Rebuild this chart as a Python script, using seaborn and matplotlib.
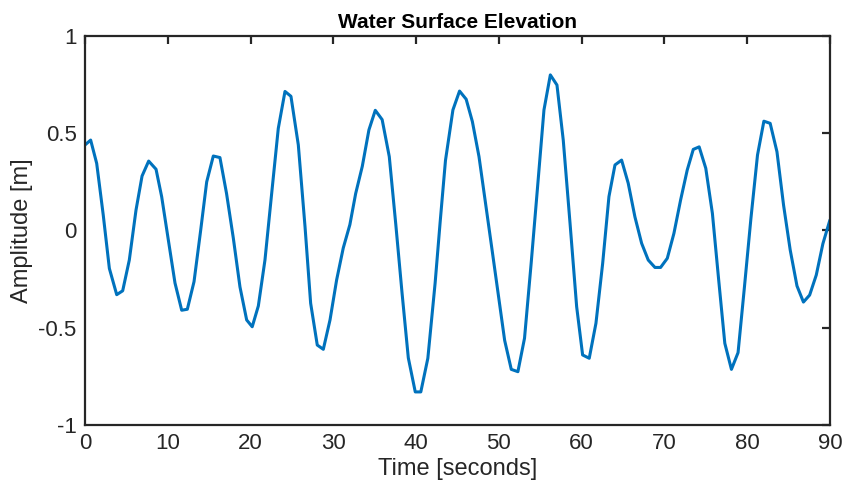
import matplotlib
matplotlib.use("Agg")
import matplotlib.pyplot as plt
import seaborn as sns
import pandas as pd
from matplotlib import font_manager

# Vertices (time in seconds, amplitude in metres)
time_s = [0.0, 0.68, 1.41, 2.2, 2.94, 3.83, 4.55, 5.35, 6.16, 6.89, 7.69, 8.58, 9.26,
          10.07, 10.87, 11.68, 12.36, 13.17, 13.97, 14.7, 15.5, 16.3, 17.1, 17.92,
          18.72, 19.53, 20.2, 20.94, 21.74, 22.55, 23.35, 24.16, 24.88, 25.77, 26.58,
          27.26, 28.06, 28.79, 29.6, 30.4, 31.2, 32.0, 32.7, 33.5, 34.3, 35.07, 35.9,
          36.76, 37.55, 38.3, 39.06, 39.9, 40.57, 41.42, 42.3, 42.9, 43.55, 44.45,
          45.25, 46.05, 46.8, 47.6, 48.4, 49.2, 49.9, 50.7, 51.5, 52.3, 53.1, 53.9,
          54.65, 55.45, 56.22, 57.02, 57.78, 58.6, 59.4, 60.12, 60.92, 61.73, 62.54,
          63.3, 64.03, 64.83, 65.63, 66.44, 67.25, 68.05, 68.86, 69.54, 70.35, 71.15,
          71.96, 72.76, 73.49, 74.2, 75.0, 75.8, 76.55, 77.3, 78.1, 78.9, 79.65, 80.45,
          81.25, 82.02, 82.78, 83.6, 84.4, 85.2, 86.02, 86.8, 87.55, 88.35, 89.15, 90.0]
amplitude_m = [0.44, 0.465, 0.345, 0.08, -0.195, -0.33, -0.31, -0.152, 0.105, 0.28, 0.357, 0.315, 0.174,
               -0.05, -0.27, -0.41, -0.405, -0.263, 0.0, 0.25, 0.383, 0.375, 0.19, -0.04,
               -0.29, -0.46, -0.495, -0.388, -0.152, 0.19, 0.525, 0.715, 0.69, 0.44, 0.02,
               -0.374, -0.589, -0.611, -0.46, -0.254, -0.09, 0.03, 0.19, 0.33, 0.517, 0.618, 0.57,
               0.38, 0.03, -0.32, -0.655, -0.83, -0.83, -0.657, -0.27, 0.04, 0.36, 0.62,
               0.717, 0.675, 0.56, 0.38, 0.137, -0.106, -0.32, -0.565, -0.714, -0.726, -0.554, -0.17,
               0.21, 0.62, 0.8, 0.748, 0.465, 0.037, -0.392, -0.64, -0.657, -0.477, -0.17,
               0.174, 0.337, 0.362, 0.243, 0.07, -0.066, -0.152, -0.19, -0.19, -0.143, -0.015,
               0.157, 0.311, 0.417, 0.43, 0.32, 0.088, -0.25, -0.58, -0.714, -0.628, -0.3, 0.06,
               0.388, 0.562, 0.551, 0.405, 0.13, -0.1, -0.285, -0.368, -0.332, -0.229, -0.068, 0.054]

x_ticks = [0, 10, 20, 30, 40, 50, 60, 70, 80, 90]
y_ticks = [-1, -0.5, 0, 0.5, 1]
y_tick_labels = ["-1", "-0.5", "0", "0.5", "1"]

sns.set_style("white")
installed = {f.name for f in font_manager.fontManager.ttflist}
narrow = "Liberation Sans Narrow" if "Liberation Sans Narrow" in installed else "Liberation Sans"
plt.rcParams['font.family'] = [narrow, 'Liberation Sans', 'DejaVu Sans']
plt.rcParams['axes.unicode_minus'] = False

df = pd.DataFrame({"Time": time_s, "Amplitude": amplitude_m})

fig = plt.figure(figsize=(8.46, 4.90), dpi=100)
ax = fig.add_axes([0.1005, 0.1327, 0.8805, 0.7938])
sns.lineplot(data=df, x="Time", y="Amplitude", ax=ax, color="#0072BD",
             linewidth=2.2, sort=False, estimator=None)

ax.set_xlim(0, 90)
ax.set_ylim(-1, 1)
ax.set_xticks(x_ticks)
ax.set_xticklabels([str(v) for v in x_ticks])
ax.set_yticks(y_ticks)
ax.set_yticklabels(y_tick_labels)

edge = "#262626"
for s in ax.spines.values():
    s.set_visible(True)
    s.set_color(edge)
    s.set_linewidth(1.6)
ax.tick_params(direction="in", length=6, width=1.6, color=edge, top=True, right=True,
               labelsize=16, labelcolor=edge, pad=6)

ax.set_title("Water Surface Elevation", fontsize=15, fontweight="bold", color="black",
             pad=6, family=['Liberation Sans', 'DejaVu Sans'])
ax.set_xlabel("Time [seconds]", fontsize=17, color=edge, labelpad=3)
ax.set_ylabel("Amplitude [m]", fontsize=17, color=edge, labelpad=4)
ax.grid(False)

fig.savefig("out.png", dpi=100)
